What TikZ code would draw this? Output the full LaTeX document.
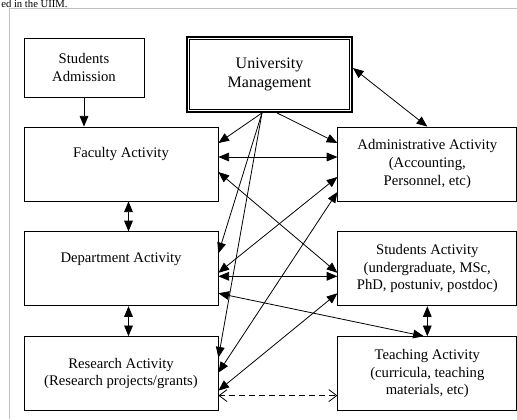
\documentclass[tikz,border=0pt]{standalone}
\usepackage{fontspec}
\setmainfont{Liberation Serif}
\usepackage{tikz}
\usetikzlibrary{arrows.meta,positioning,calc}
\definecolor{framegrey}{HTML}{C0C0C0}

\begin{document}
\begin{tikzpicture}[x=0.75pt,y=-0.75pt,
  font=\fontsize{11}{13.2}\selectfont,
  box/.style={draw,line width=0.6pt,align=center,inner sep=2pt,minimum height=55.5pt},
  lbox/.style={box,minimum width=145.5pt},
  rbox/.style={box,minimum width=134.25pt},
  mgmt/.style={box,line width=1.4pt,minimum width=123.75pt,minimum height=56.25pt,font=\fontsize{12}{14.5}\selectfont},
  link/.style={line width=0.6pt,-{Triangle[length=8pt,width=6.5pt]}},
  both/.style={line width=0.6pt,{Triangle[length=8pt,width=6.5pt]}-{Triangle[length=8pt,width=6.5pt]}},
  loose/.style={line width=0.6pt,dash pattern=on 4.5pt off 3pt,{Straight Barb[length=6pt,width=9pt]}-{Straight Barb[length=6pt,width=9pt]}},
  node distance=22.5pt and 89.25pt]
\useasboundingbox (0,0) rectangle (517,419);
\draw[framegrey,line width=0.8pt] (9.5,419) -- (9.5,8.5) -- (517,8.5);
\node[anchor=base west,inner sep=0pt,font=\fontsize{8}{9}\selectfont] (cap) at (1,7) {ed in the UIIM.};

\node[box,minimum width=90pt,minimum height=44.25pt] (sadm) at (84,67.5) {Students\\Admission};
\node[mgmt] (univ) at (269.5,74.5) {University\\Management};
\draw[line width=0.5pt] ($(univ.north west)+(3.5,3.5)$) rectangle ($(univ.south east)+(-3.5,-3.5)$);

\node[lbox] (fac) at (121,164) {Faculty Activity\\ \strut};
\node[lbox,below=of fac] (dep) {Department Activity\\ \strut};
\node[lbox,below=of dep] (res) {Research Activity\\(Research projects/grants)};
\node[rbox,right=of fac] (admin) {Administrative Activity\\(Accounting,\\Personnel, etc)};
\node[rbox,right=of dep] (stud) {Students Activity\\(undergraduate, MSc,\\PhD, postuniv, postdoc)};
\node[rbox,right=of res] (teach) {Teaching Activity\\(curricula, teaching\\materials, etc)};

\draw[link] (sadm.south) -- (sadm.south |- fac.north);
\draw[both] ($(univ.east)+(0,-6.5)$) -- (admin.north);
\draw[link] ($(univ.south)+(-7.5,0)$) -- ($(fac.east)+(0,-21)$);
\draw[link] ($(univ.south)+(7.5,0)$) -- ($(admin.west)+(0,-21)$);
\draw[link] ($(univ.south)+(-7.5,0)$) -- ($(dep.east)+(0,-15.5)$);
\draw[link] ($(univ.south)+(-7.5,0)$) -- ($(res.east)+(0,-16)$);
\draw[both] ($(fac.east)+(0,-7)$) -- ($(admin.west)+(0,-7)$);
\draw[both] ($(fac.east)+(0,8)$) -- ($(stud.west)+(0,4)$);
\draw[both] ($(admin.west)+(0,13)$) -- ($(dep.east)+(0,4)$);
\draw[both] ($(dep.east)+(0,7.5)$) -- ($(stud.west)+(0,7.5)$);
\draw[both] ($(admin.west)+(0,28)$) -- ($(res.east)+(0,-1)$);
\draw[both] ($(stud.west)+(0,24.5)$) -- ($(res.east)+(0,17)$);
\draw[both] ($(dep.east)+(0,24.5)$) -- ($(teach.north)+(-3.5,0)$);
\draw[both] ($(fac.south)+(7.5,0)$) -- ($(dep.north)+(7.5,0)$);
\draw[both] ($(dep.south)+(7.5,0)$) -- ($(res.north)+(7.5,0)$);
\draw[both] (stud.south) -- (teach.north);
\draw[loose] ($(res.east)+(0,22)$) -- ($(teach.west)+(0,22)$);
\end{tikzpicture}
\end{document}
